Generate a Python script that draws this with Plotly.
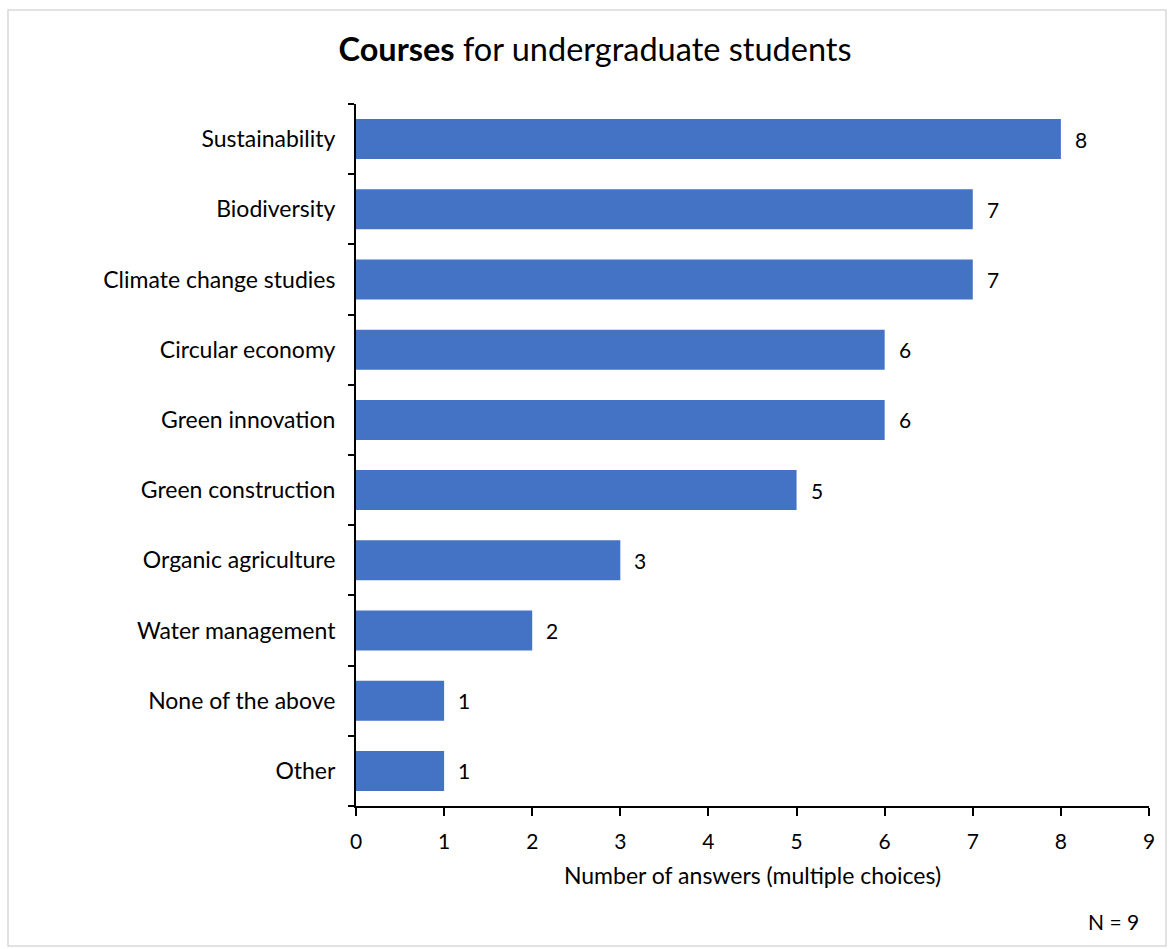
import plotly.graph_objects as go

courses = [
    "Sustainability",
    "Biodiversity",
    "Climate change studies",
    "Circular economy",
    "Green innovation",
    "Green construction",
    "Organic agriculture",
    "Water management",
    "None of the above",
    "Other",
]
answers = [8, 7, 7, 6, 6, 5, 3, 2, 1, 1]
x_ticks = list(range(0, 10))

W, H = 1173, 949
L, R, T, B = 356, 24, 104, 143
pw, ph = W - L - R, H - T - B

def px_x(px):
    return (px - L) / pw

def px_y(py):
    return (H - B - py) / ph

FONT = "Lato"
FS = 23

fig = go.Figure(
    go.Bar(
        y=courses,
        x=answers,
        orientation="h",
        marker=dict(color="#4472C4", line=dict(width=0)),
        width=0.57,
        hoverinfo="x+y",
    )
)

# value labels just right of each bar end
for course, val in zip(courses, answers):
    fig.add_annotation(
        x=val,
        y=course,
        xref="x",
        yref="y",
        text=str(val),
        showarrow=False,
        xanchor="left",
        yanchor="middle",
        xshift=12,
        font=dict(family=FONT, size=FS - 2, color="#000000"),
    )

fig.update_layout(
    width=W,
    height=H,
    margin=dict(l=L, r=R, t=T, b=B),
    paper_bgcolor="white",
    plot_bgcolor="white",
    showlegend=False,
    font=dict(family=FONT, size=FS, color="#000000"),
    title=dict(
        text="<b>Courses</b> for undergraduate students",
        x=595 / W,
        xanchor="center",
        y=1 - 50 / H,
        yanchor="middle",
        font=dict(family=FONT, size=32.5, color="#000000"),
    ),
    xaxis=dict(
        range=[0, 9],
        tickvals=x_ticks,
        ticks="outside",
        ticklen=8,
        tickwidth=2,
        tickcolor="#000000",
        showline=True,
        linecolor="#000000",
        linewidth=2,
        showgrid=False,
        zeroline=False,
        ticklabelstandoff=8,
        tickfont=dict(family=FONT, size=FS - 2),
        title=dict(
            text="Number of answers (multiple choices)",
            font=dict(family=FONT, size=FS),
            standoff=16,
        ),
    ),
    yaxis=dict(
        categoryorder="array",
        categoryarray=courses[::-1],
        ticks="outside",
        tickson="boundaries",
        ticklen=6,
        tickwidth=2,
        tickcolor="#000000",
        showline=True,
        linecolor="#000000",
        linewidth=2,
        showgrid=False,
        zeroline=False,
        ticklabelstandoff=14,
        tickfont=dict(family=FONT, size=FS),
    ),
    shapes=[
        dict(
            type="rect",
            xref="paper",
            yref="paper",
            x0=px_x(8),
            x1=px_x(1166),
            y0=px_y(946),
            y1=px_y(10),
            line=dict(color="#D9D9D9", width=1.5),
            fillcolor="rgba(0,0,0,0)",
            layer="below",
        )
    ],
    annotations=list(fig.layout.annotations) + [
        dict(
            text="N = 9",
            xref="paper",
            yref="paper",
            x=px_x(1141),
            y=px_y(921),
            xanchor="right",
            yanchor="middle",
            showarrow=False,
            font=dict(family=FONT, size=FS - 2),
        )
    ],
)

fig.write_html("out.html")
